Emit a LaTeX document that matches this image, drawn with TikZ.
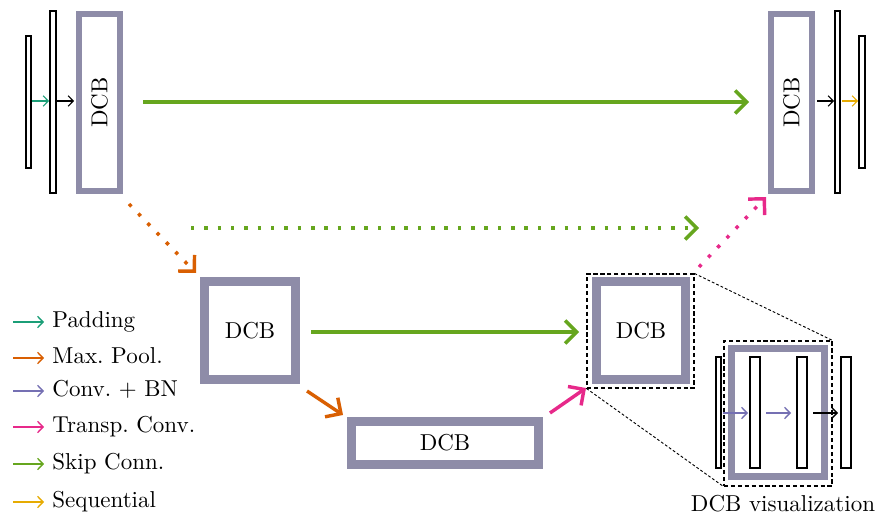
\documentclass[tikz,border=0pt]{standalone}
\usetikzlibrary{arrows.meta,fit}
\definecolor{cteal}{HTML}{1B9E77}
\definecolor{corange}{HTML}{D95F02}
\definecolor{cpurple}{HTML}{7570B3}
\definecolor{cpink}{HTML}{E7298A}
\definecolor{cgreen}{HTML}{66A61E}
\definecolor{cyellow}{HTML}{E6AB02}
\definecolor{boxc}{RGB}{142,140,168}
\begin{document}
\begin{tikzpicture}[x=0.4348pt,y=-0.4348pt,
  dcbtop/.style={draw=boxc, line width=2.8pt, fill=white, inner sep=0pt},
  dcbmid/.style={draw=boxc, line width=3.9pt, fill=white, inner sep=0pt},
  dcbzoom/.style={draw=boxc, line width=3.0pt, fill=white, inner sep=0pt},
  layer/.style={draw=black, line width=0.45pt, fill=white, inner sep=0pt},
  thinarr/.style={line width=0.5pt, -{Straight Barb[length=2.2pt,width=4.6pt]}},
  legarr/.style={line width=0.6pt, -{Straight Barb[length=2.4pt,width=5pt]}},
  bigarr/.style={line width=1.5pt, -{Straight Barb[length=5pt,width=10pt]}},
  dotarr/.style={bigarr, dash pattern=on 1.5pt off 4.3pt},
  zoomrect/.style={draw=black, line width=0.45pt, dash pattern=on 1.8pt off 1.2pt, inner sep=0pt},
  zoomline/.style={line width=0.4pt, dash pattern=on 1.2pt off 0.9pt},
  legtext/.style={anchor=base west, inner sep=0pt},
]
\useasboundingbox (0,0) rectangle (884,517);

% ---- main DCB boxes ----
\node[dcbtop, fit={(79.25,14.25) (119.75,190.75)}] (tl) {};
\node[rotate=90] at (tl.center) {DCB};
\node[dcbtop, fit={(771.25,14.25) (811.75,190.75)}] (tr) {};
\node[rotate=90] at (tr.center) {DCB};
\node[dcbmid, fit={(204.5,281.5) (295.5,379.5)}] (ml) {};
\node at (ml.center) {DCB};
\node[dcbmid, fit={(596.5,281.5) (685.5,379.5)}] (mr) {};
\node at (mr.center) {DCB};
\node[dcbmid, fit={(351.5,421.5) (538.5,464.5)}] (bt) {};
\node at (bt.center) {DCB};

% ---- input / output layers ----
\node[layer, fit={(26,36) (31,168)}] (in1) {};
\node[layer, fit={(50,11) (56,193)}] (in2) {};
\node[layer, fit={(835,11) (840,193)}] (out1) {};
\node[layer, fit={(859,36) (865,168)}] (out2) {};

\coordinate (a1s) at (32,101);  \coordinate (a1e) at (49,101);
\coordinate (a2s) at (57,101);  \coordinate (a2e) at (74,101);
\coordinate (a3s) at (817,101); \coordinate (a3e) at (834,101);
\coordinate (a4s) at (842,101); \coordinate (a4e) at (858,101);
\draw[thinarr, cteal] (a1s) -- (a1e);
\draw[thinarr, black] (a2s) -- (a2e);
\draw[thinarr, black] (a3s) -- (a3e);
\draw[thinarr, cyellow] (a4s) -- (a4e);

% ---- skip connections ----
\coordinate (s1s) at (143,102); \coordinate (s1e) at (749,102);
\draw[bigarr, cgreen] (s1s) -- (s1e);
\coordinate (s2s) at (191,228); \coordinate (s2e) at (699,228);
\draw[dotarr, cgreen] (s2s) -- (s2e);
\coordinate (s3s) at (311,332); \coordinate (s3e) at (579,332);
\draw[bigarr, cgreen] (s3s) -- (s3e);

% ---- pooling ----
\coordinate (p1s) at (129,204); \coordinate (p1e) at (196,273);
\draw[dotarr, corange] (p1s) -- (p1e);
\coordinate (p2s) at (307,391); \coordinate (p2e) at (343,415);
\draw[bigarr, corange] (p2s) -- (p2e);

% ---- transposed conv ----
\coordinate (t1s) at (550,413); \coordinate (t1e) at (586,388);
\draw[bigarr, cpink] (t1s) -- (t1e);
\coordinate (t2s) at (699,267); \coordinate (t2e) at (766,197);
\draw[dotarr, cpink] (t2s) -- (t2e);

% ---- zoom of DCB ----
\node[zoomrect, fit={(587,274) (694,388)}] (zs) {};
\node[dcbzoom, fit={(731.5,348.5) (824.5,476.5)}] (zb) {};
\node[layer, fit={(716,357) (721,468)}] (z1) {};
\node[layer, fit={(750,357) (760,468)}] (z2) {};
\node[layer, fit={(797,357) (807,468)}] (z3) {};
\node[layer, fit={(841,357) (851,468)}] (z4) {};
\node[zoomrect, fit={(724,341) (832,486)}] (zl) {};
\draw[zoomline] (zs.north east) -- (zl.north east);
\draw[zoomline] (zs.south west) -- (zl.south west);
\coordinate (zA) at (723,413); \coordinate (zB) at (748,413);
\coordinate (zC) at (766,413); \coordinate (zD) at (791,413);
\coordinate (zE) at (813,413); \coordinate (zF) at (838,413);
\draw[legarr, cpurple] (zA) -- (zB);
\draw[legarr, cpurple] (zC) -- (zD);
\draw[legarr, black] (zE) -- (zF);
\node[anchor=base, inner sep=0pt] (zt) at (783,511.5) {DCB visualization};

% ---- legend ----
\foreach \yy/\cc/\tt [count=\i] in {322/cteal/Padding, 358/corange/Max.\ Pool., 391/cpurple/Conv.\ + BN, 427/cpink/Transp.\ Conv., 464/cgreen/Skip Conn., 502/cyellow/Sequential}{
  \coordinate (ls\i) at (13,\yy);
  \coordinate (le\i) at (44,\yy);
  \draw[legarr, \cc] (ls\i) -- (le\i);
  \node[legtext] (lt\i) at (52,\yy+5.75) {\tt};
}
\end{tikzpicture}
\end{document}
